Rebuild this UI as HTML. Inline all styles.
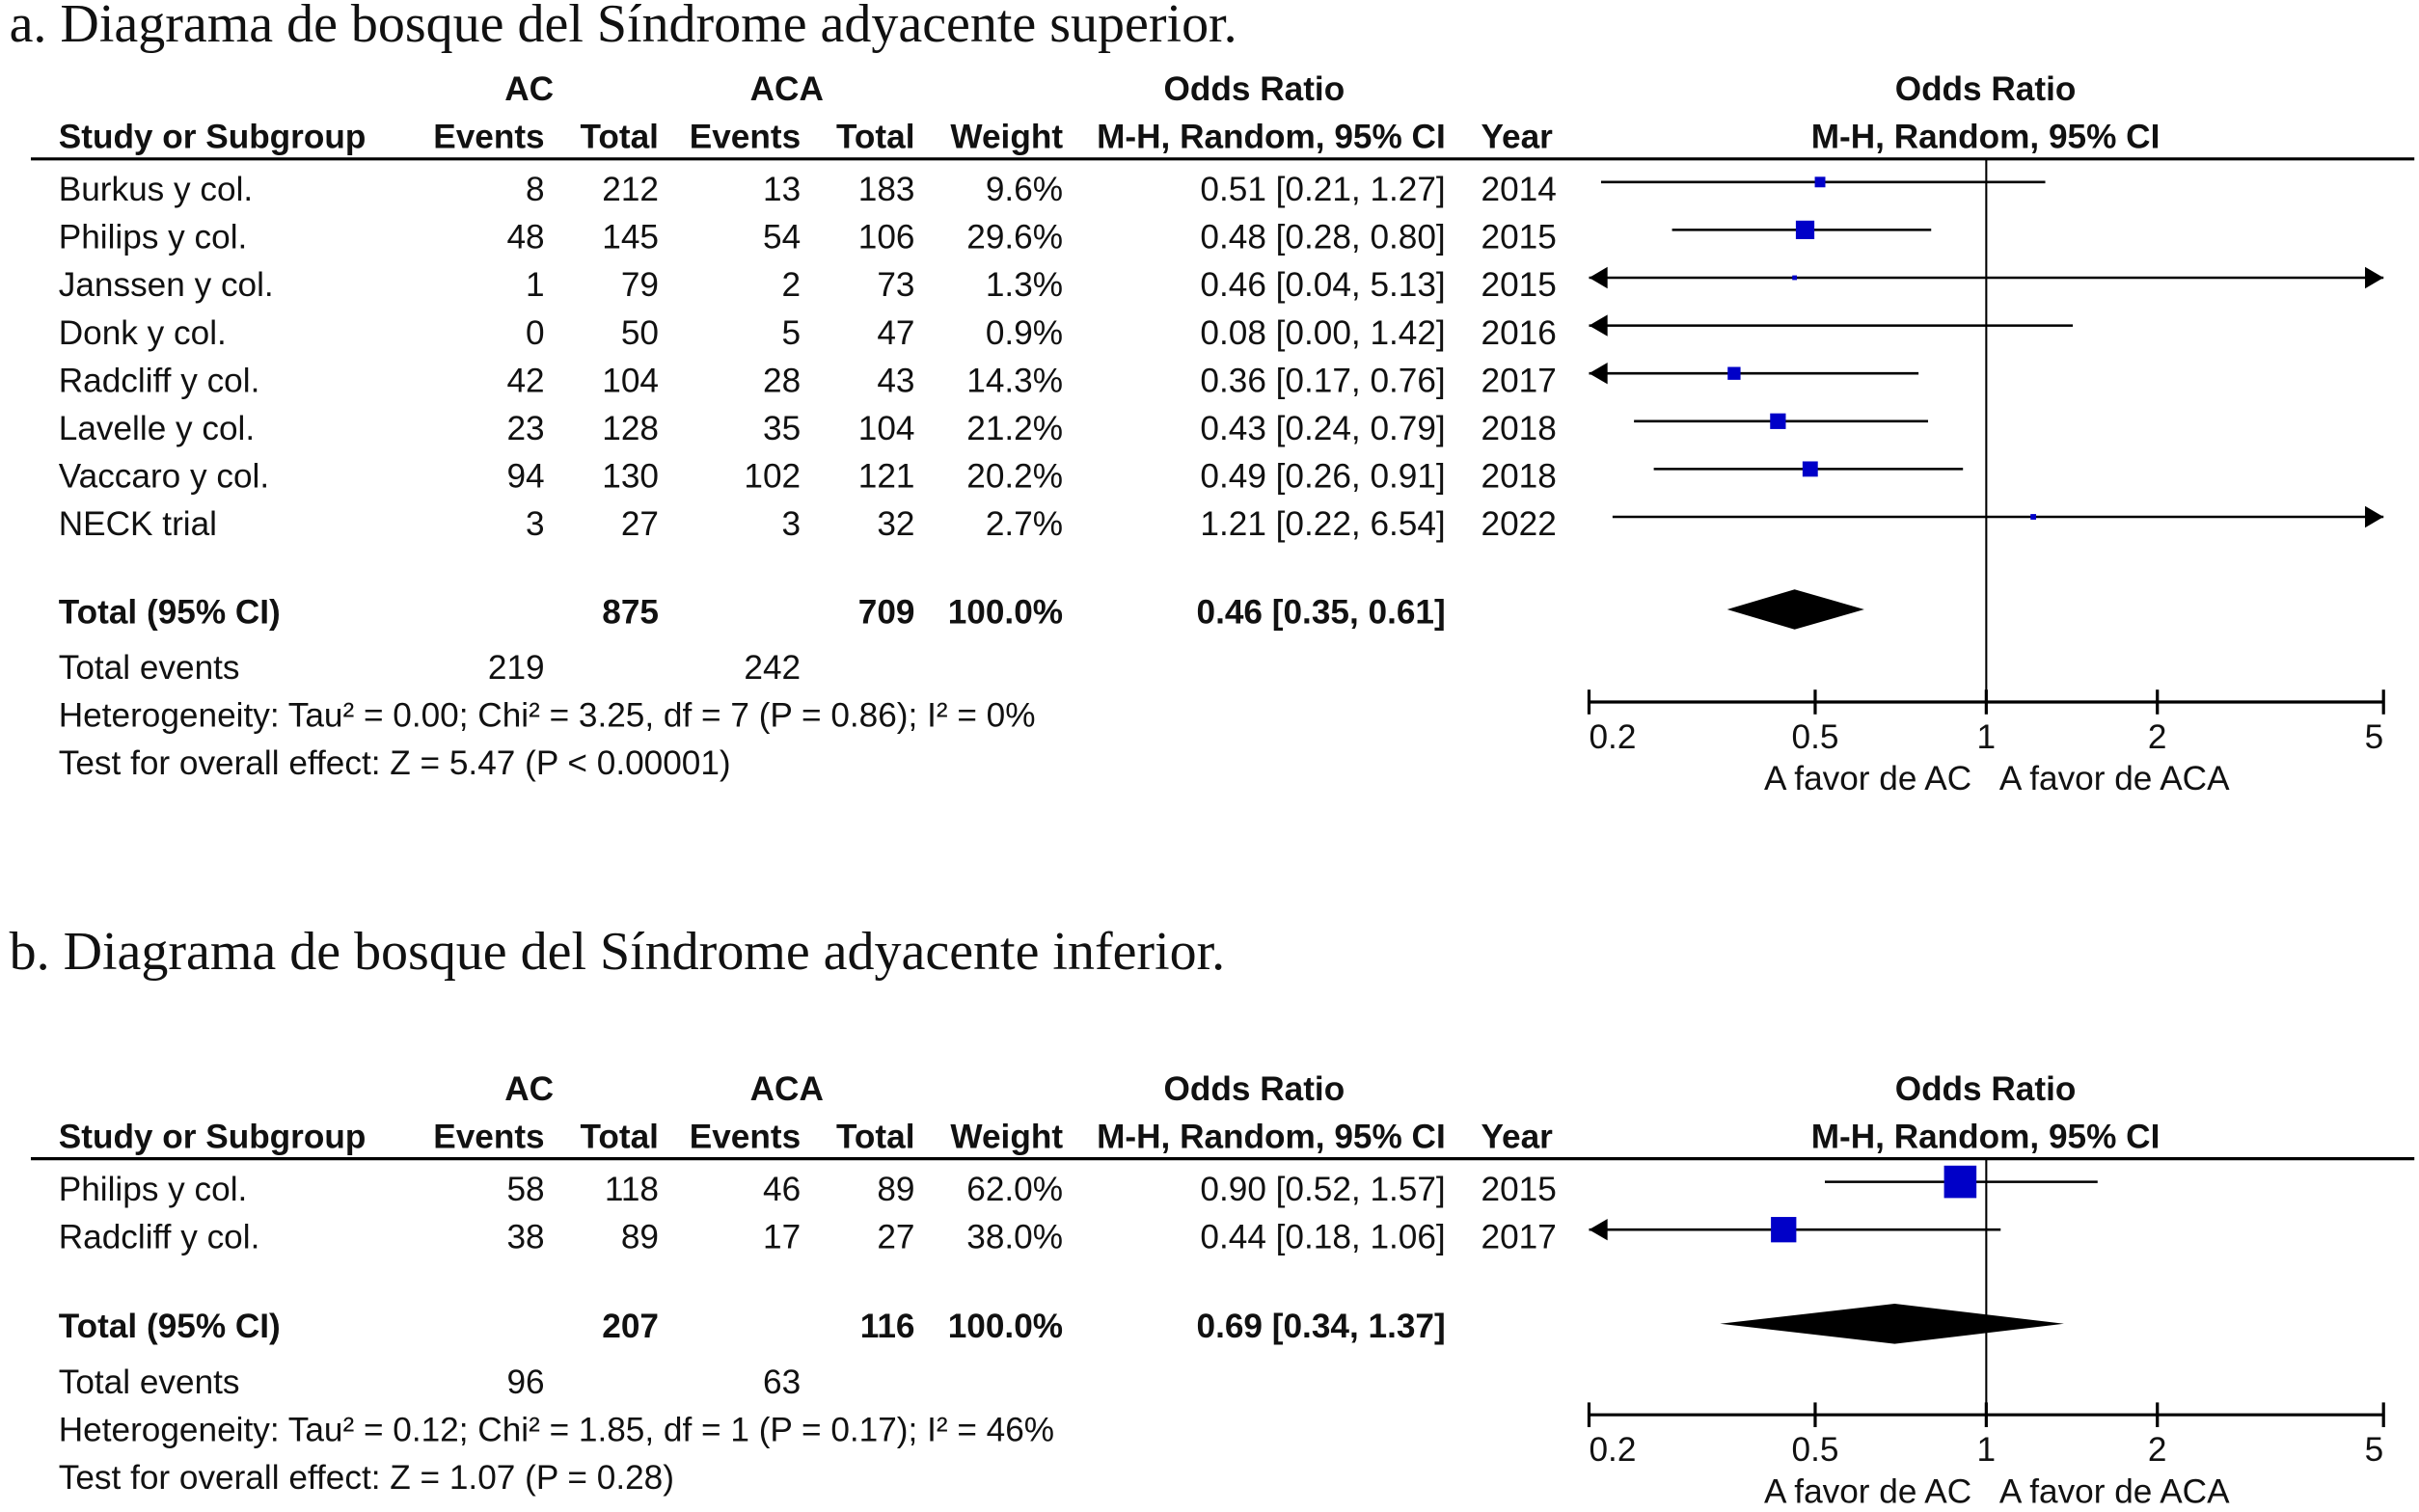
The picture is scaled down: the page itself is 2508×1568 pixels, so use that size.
<!DOCTYPE html>
<html><head><meta charset="utf-8"><style>
html,body{margin:0;padding:0;background:#fff}
svg{display:block}
text{font-family:"Liberation Sans",Arial,sans-serif;font-size:22px;fill:#111}
.t{font-family:"Liberation Serif",serif;font-size:35px}
.b{font-weight:bold}
</style></head><body>
<svg id="c" width="2508" height="1568" viewBox="0 0 1568 980" preserveAspectRatio="none" xmlns="http://www.w3.org/2000/svg"></svg>
<script>
const studiesA=["Burkus y col.","Philips y col.","Janssen y col.","Donk y col.","Radcliff y col.","Lavelle y col.","Vaccaro y col.","NECK trial"];
const acEvA=[8,48,1,0,42,23,94,3];
const acTotA=[212,145,79,50,104,128,130,27];
const acaEvA=[13,54,2,5,28,35,102,3];
const acaTotA=[183,106,73,47,43,104,121,32];
const weightA=[9.6,29.6,1.3,0.9,14.3,21.2,20.2,2.7];
const orA=[0.51,0.48,0.46,0.08,0.36,0.43,0.49,1.21];
const loA=[0.21,0.28,0.04,0.00,0.17,0.24,0.26,0.22];
const hiA=[1.27,0.80,5.13,1.42,0.76,0.79,0.91,6.54];
const yearA=[2014,2015,2015,2016,2017,2018,2018,2022];
const totA={ac:875,aca:709,or:0.46,lo:0.35,hi:0.61,evAc:219,evAca:242,het:"Heterogeneity: Tau² = 0.00; Chi² = 3.25, df = 7 (P = 0.86); I² = 0%",test:"Test for overall effect: Z = 5.47 (P < 0.00001)"};
const studiesB=["Philips y col.","Radcliff y col."];
const acEvB=[58,38];
const acTotB=[118,89];
const acaEvB=[46,17];
const acaTotB=[89,27];
const weightB=[62.0,38.0];
const orB=[0.90,0.44];
const loB=[0.52,0.18];
const hiB=[1.57,1.06];
const yearB=[2015,2017];
const totB={ac:207,aca:116,or:0.69,lo:0.34,hi:1.37,evAc:96,evAca:63,het:"Heterogeneity: Tau² = 0.12; Chi² = 1.85, df = 1 (P = 0.17); I² = 46%",test:"Test for overall effect: Z = 1.07 (P = 0.28)"};
const ticks=[0.2,0.5,1,2,5];
const tickLabels=["0.2","0.5","1","2","5"];

const svg=document.getElementById('c');const NS="http://www.w3.org/2000/svg";
function el(tag,attrs,txt){const e=document.createElementNS(NS,tag);for(const k in attrs)e.setAttribute(k,attrs[k]);if(txt!==undefined)e.textContent=txt;svg.appendChild(e);return e;}
const xMin=0.2,xMax=5,x0=1030,x1=1545;
function X(v){v=Math.max(v,xMin);v=Math.min(v,xMax);return x0+(Math.log10(v)-Math.log10(xMin))/(Math.log10(xMax)-Math.log10(xMin))*(x1-x0);}
function f2(v){return v.toFixed(2);}
function txt(x,y,s,anchor,cls,name){const e=el('text',{x:x,y:y,'text-anchor':anchor||'start',class:cls||''},s);

return e;}
function arrow(x,y,dir){const e=el('path',{d:dir<0?`M${x} ${y} l12 -7 l0 14 z`:`M${x} ${y} l-12 -7 l0 14 z`,fill:'#000'});

}

function panel(o){
  const hy=o.hy;
  txt(343,hy,"AC","middle","b","header-ac");
  txt(510,hy,"ACA","middle","b","header-aca");
  txt(813,hy,"Odds Ratio","middle","b","header-odds-ratio");
  txt(1287,hy,"Odds Ratio","middle","b","header-odds-ratio-plot");
  const h2=hy+31;
  [["Study or Subgroup",38,"start"],["Events",353,"end"],["Total",427,"end"],["Events",519,"end"],["Total",593,"end"],["Weight",689,"end"],["M-H, Random, 95% CI",937,"end"],["Year",960,"start"],["M-H, Random, 95% CI",1287,"middle"]].forEach(h=>txt(h[1],h2,h[0],h[2],"b","column-header"));
  const ly=h2+7;
  const hl=el('line',{x1:20,x2:1565,y1:ly,y2:ly,stroke:'#000','stroke-width':2});
  
  
  const n=o.st.length;const maxW=Math.max(...o.w);
  for(let i=0;i<n;i++){
    const y=o.r0+i*31;
    txt(38,y,o.st[i],"start","","study-name");
    txt(353,y,String(o.ae[i]),"end","","ac-events");
    txt(427,y,String(o.at[i]),"end","","ac-total");
    txt(519,y,String(o.be[i]),"end","","aca-events");
    txt(593,y,String(o.bt[i]),"end","","aca-total");
    txt(689,y,o.w[i].toFixed(1)+"%","end","","weight");
    txt(937,y,`${f2(o.or[i])} [${f2(o.lo[i])}, ${f2(o.hi[i])}]`,"end","","odds-ratio-ci");
    txt(960,y,String(o.yr[i]),"start","","year");
    const my=y-12;
    const ci=el('line',{x1:X(o.lo[i]),x2:X(o.hi[i]),y1:my,y2:my,stroke:'#000','stroke-width':1.6});
    
    
    if(o.lo[i]<xMin)arrow(X(xMin),my,-1);
    if(o.hi[i]>xMax)arrow(X(xMax),my,1);
    if(o.or[i]>=xMin&&o.or[i]<=xMax){
      const s=Math.max(3,o.smax*Math.sqrt(o.w[i]/maxW));
      const sq=el('rect',{x:X(o.or[i])-s/2,y:my-s/2,width:s,height:s,fill:'#0000c8'});
      
      
    }
  }
  const T=o.tot;const ty=o.ty;
  txt(38,ty,"Total (95% CI)","start","b","total-label");
  txt(427,ty,String(T.ac),"end","b","total-ac");
  txt(593,ty,String(T.aca),"end","b","total-aca");
  txt(689,ty,"100.0%","end","b","total-weight");
  txt(937,ty,`${f2(T.or)} [${f2(T.lo)}, ${f2(T.hi)}]`,"end","b","total-odds-ratio");
  const dy=ty-9;
  const d=el('polygon',{points:`${X(T.lo)},${dy} ${X(T.or)},${dy-13} ${X(T.hi)},${dy} ${X(T.or)},${dy+13}`,fill:'#000'});
  
  
  txt(38,ty+36,"Total events","start","","total-events-label");
  txt(353,ty+36,String(T.evAc),"end","","total-events-ac");
  txt(519,ty+36,String(T.evAca),"end","","total-events-aca");
  txt(38,ty+67,T.het,"start","","heterogeneity");
  txt(38,ty+98,T.test,"start","","overall-effect");
  const ay=o.ay;
  const ref=el('line',{x1:X(1),x2:X(1),y1:ly,y2:ay,stroke:'#000','stroke-width':1.3});
  
  
  const ax=el('line',{x1:X(xMin),x2:X(xMax),y1:ay,y2:ay,stroke:'#000','stroke-width':2});
  
  
  ticks.forEach((t,i)=>{
    const tk=el('line',{x1:X(t),x2:X(t),y1:ay-8,y2:ay+8,stroke:'#000','stroke-width':2});
    
    
    const a=i==0?"start":(i==ticks.length-1?"end":"middle");
    txt(X(t),ay+30,tickLabels[i],a,"","x-tick-label");
  });
  txt(1278,ay+57,"A favor de AC","end","","favours-ac");
  txt(1296,ay+57,"A favor de ACA","start","","favours-aca");
}
txt(6,27,"a. Diagrama de bosque del Síndrome adyacente superior.","start","t","title-a");
panel({hy:65,st:studiesA,ae:acEvA,at:acTotA,be:acaEvA,bt:acaTotA,w:weightA,or:orA,lo:loA,hi:hiA,yr:yearA,tot:totA,r0:130,ty:404,ay:455,smax:12});
txt(6,628,"b. Diagrama de bosque del Síndrome adyacente inferior.","start","t","title-b");
panel({hy:713,st:studiesB,ae:acEvB,at:acTotB,be:acaEvB,bt:acaTotB,w:weightB,or:orB,lo:loB,hi:hiB,yr:yearB,tot:totB,r0:778,ty:867,ay:917,smax:21});
</script>
</body></html>
